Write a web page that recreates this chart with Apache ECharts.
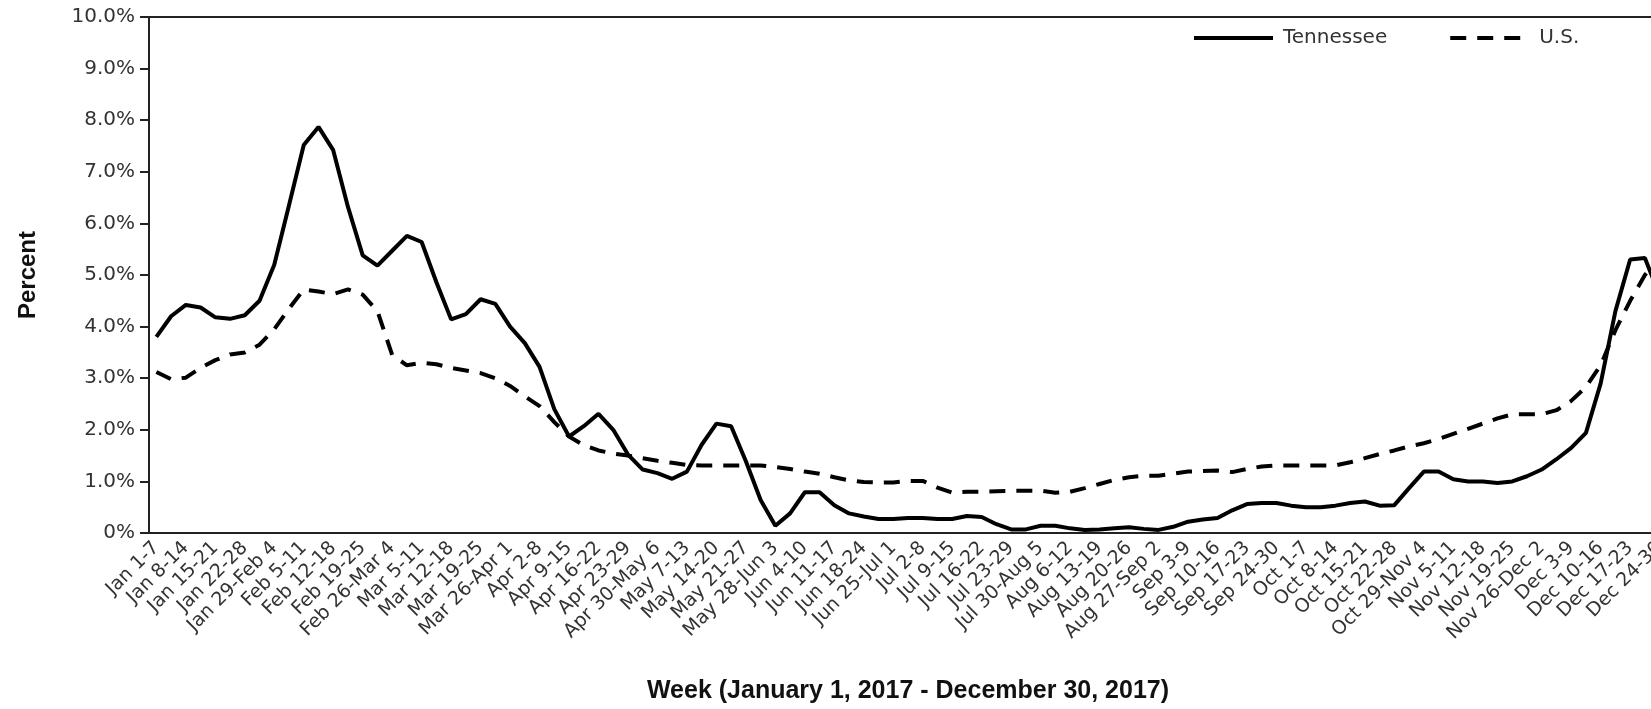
<!DOCTYPE html>
<html>
<head>
<meta charset="utf-8">
<title>Tennessee vs U.S. weekly percent, 2017</title>
<script src="https://cdn.jsdelivr.net/npm/echarts@6/dist/echarts.min.js"></script>
<style>
  html, body { margin: 0; padding: 0; background: #fff; }
  #chart { width: 1651px; height: 709px; }
</style>
</head>
<body>
<div id="chart"></div>
<script>
// week labels, one per tick
const weeks = [
  "Jan 1-7", "Jan 8-14", "Jan 15-21", "Jan 22-28", "Jan 29-Feb 4", "Feb 5-11",
  "Feb 12-18", "Feb 19-25", "Feb 26-Mar 4", "Mar 5-11", "Mar 12-18", "Mar 19-25",
  "Mar 26-Apr 1", "Apr 2-8", "Apr 9-15", "Apr 16-22", "Apr 23-29", "Apr 30-May 6",
  "May 7-13", "May 14-20", "May 21-27", "May 28-Jun 3", "Jun 4-10", "Jun 11-17",
  "Jun 18-24", "Jun 25-Jul 1", "Jul 2-8", "Jul 9-15", "Jul 16-22", "Jul 23-29",
  "Jul 30-Aug 5", "Aug 6-12", "Aug 13-19", "Aug 20-26", "Aug 27-Sep 2", "Sep 3-9",
  "Sep 10-16", "Sep 17-23", "Sep 24-30", "Oct 1-7", "Oct 8-14", "Oct 15-21",
  "Oct 22-28", "Oct 29-Nov 4", "Nov 5-11", "Nov 12-18", "Nov 19-25", "Nov 26-Dec 2",
  "Dec 3-9", "Dec 10-16", "Dec 17-23", "Dec 24-30"
];

// values are read at half-week steps (week, midweek, week, ...)
const tennessee = [
  3.80, 4.20, 4.42, 4.37, 4.18, 4.15, 4.22, 4.50, 5.20, 6.35,
  7.52, 7.87, 7.42, 6.32, 5.38, 5.18, 5.47, 5.76, 5.64, 4.86,
  4.14, 4.24, 4.53, 4.44, 4.00, 3.68, 3.22, 2.40, 1.87, 2.07,
  2.31, 2.00, 1.52, 1.23, 1.16, 1.05, 1.19, 1.71, 2.12, 2.07,
  1.39, 0.64, 0.14, 0.38, 0.79, 0.79, 0.54, 0.38, 0.32, 0.27,
  0.27, 0.29, 0.29, 0.27, 0.27, 0.33, 0.31, 0.17, 0.07, 0.07,
  0.14, 0.14, 0.09, 0.06, 0.07, 0.09, 0.11, 0.08, 0.06, 0.12,
  0.22, 0.26, 0.29, 0.44, 0.56, 0.58, 0.58, 0.53, 0.50, 0.50,
  0.53, 0.58, 0.61, 0.53, 0.54, 0.87, 1.19, 1.19, 1.04, 1.00,
  1.00, 0.97, 1.00, 1.10, 1.23, 1.43, 1.65, 1.94, 2.90, 4.30,
  5.30, 5.33, 4.60
];

const us = [
  3.12, 2.98, 3.01, 3.20, 3.35, 3.46, 3.50, 3.65, 3.95, 4.35,
  4.72, 4.68, 4.63, 4.72, 4.62, 4.30, 3.45, 3.25, 3.30, 3.27,
  3.20, 3.15, 3.10, 3.00, 2.85, 2.65, 2.46, 2.15, 1.87, 1.70,
  1.60, 1.54, 1.50, 1.45, 1.40, 1.36, 1.32, 1.31, 1.31, 1.31,
  1.31, 1.31, 1.28, 1.24, 1.19, 1.15, 1.08, 1.02, 0.99, 0.98,
  0.98, 1.01, 1.01, 0.88, 0.78, 0.80, 0.80, 0.81, 0.82, 0.82,
  0.82, 0.78, 0.80, 0.87, 0.95, 1.03, 1.08, 1.11, 1.11, 1.15,
  1.19, 1.20, 1.21, 1.18, 1.24, 1.29, 1.31, 1.31, 1.31, 1.31,
  1.31, 1.37, 1.45, 1.53, 1.60, 1.68, 1.74, 1.82, 1.92, 2.02,
  2.12, 2.22, 2.30, 2.30, 2.30, 2.38, 2.56, 2.83, 3.25, 3.93,
  4.50, 5.00, 5.35
];

// category list: week label then a blank midweek slot
const cats = [];
weeks.forEach(function (w, i) {
  cats.push(w);
  if (i < weeks.length - 1) cats.push("");
});

const font = "'DejaVu Sans', sans-serif";
const boldFont = "'Liberation Sans', Arial, sans-serif";

let myChart = echarts.init(document.getElementById("chart"));

let option = {
  backgroundColor: "#fff",
  animation: false,
  textStyle: { fontFamily: font },
  grid: {
    left: 149,
    top: 17,
    bottom: 176,
    width: 1518, // plot runs past the right edge of the picture
    outerBoundsMode: "none",
    show: true,
    borderColor: "#222",
    borderWidth: 2,
    containLabel: false
  },
  legend: {
    left: 1187,
    top: 23,
    itemWidth: 79,
    itemHeight: 14,
    itemGap: 61,
    itemStyle: { opacity: 0 },
    lineStyle: { width: 4 },
    textStyle: { fontFamily: font, fontSize: 20, color: "#333", padding: [0, 0, 0, 5] },
    data: ["Tennessee", "U.S."]
  },
  xAxis: {
    type: "category",
    data: cats,
    boundaryGap: true,
    name: "Week (January 1, 2017 - December 30, 2017)",
    nameLocation: "middle",
    nameGap: 146,
    nameTextStyle: { fontFamily: boldFont, fontSize: 25, fontWeight: "bold", color: "#111" },
    axisLine: { lineStyle: { color: "#222", width: 2 } },
    axisTick: { interval: 1, alignWithLabel: true, length: 9, lineStyle: { color: "#222", width: 2 } },
    axisLabel: {
      interval: 1,
      rotate: 45,
      margin: 12,
      fontSize: 19,
      color: "#333",
      fontFamily: font
    },
    splitLine: { show: false }
  },
  yAxis: {
    type: "value",
    min: 0,
    max: 10,
    interval: 1,
    name: "Percent",
    nameLocation: "middle",
    nameGap: 109,
    nameTextStyle: { fontFamily: boldFont, fontSize: 24, fontWeight: "bold", color: "#111" },
    axisLine: { show: true, lineStyle: { color: "#222", width: 2 } },
    axisTick: { show: true, length: 9, lineStyle: { color: "#222", width: 2 } },
    axisLabel: {
      fontSize: 20,
      color: "#333",
      margin: 14,
      fontFamily: font,
      formatter: function (v) {
        return v === 0 ? "0%" : v.toFixed(1) + "%";
      }
    },
    splitLine: { show: false }
  },
  series: [
    {
      name: "Tennessee",
      type: "line",
      data: tennessee,
      symbol: "none",
      lineStyle: { color: "#000", width: 4, type: "solid" },
      itemStyle: { color: "#000" }
    },
    {
      name: "U.S.",
      type: "line",
      data: us,
      symbol: "none",
      lineStyle: { color: "#000", width: 4, type: [16, 11] },
      itemStyle: { color: "#000" }
    }
  ]
};

myChart.setOption(option);
</script>
</body>
</html>
